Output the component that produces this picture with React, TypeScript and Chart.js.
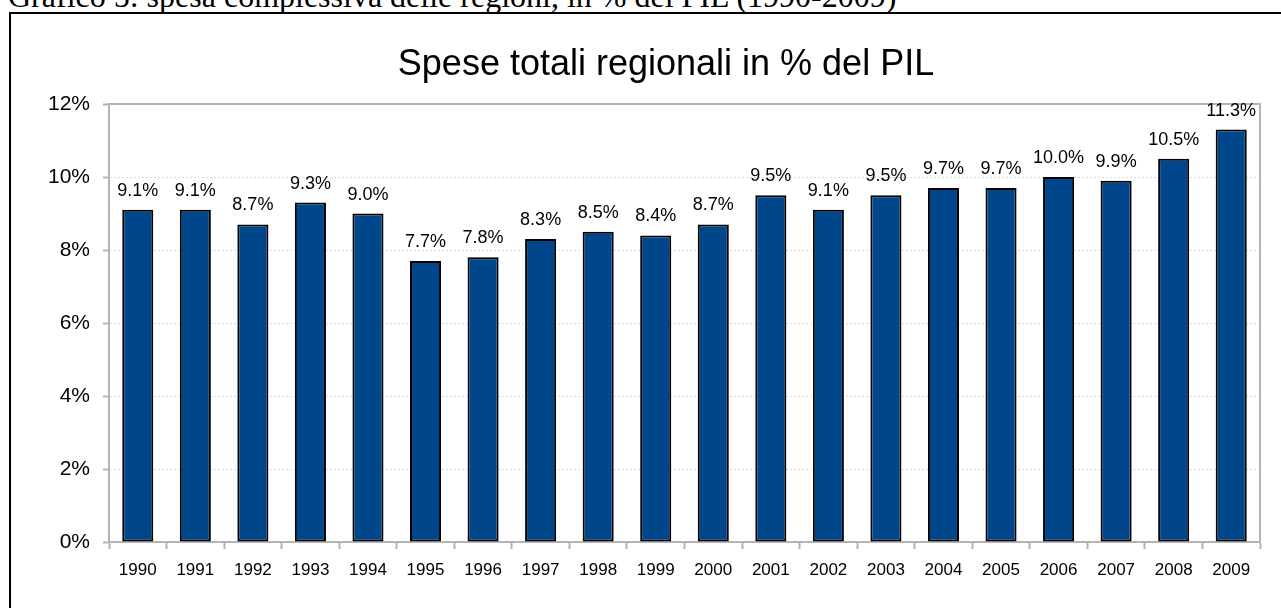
import React, { useEffect, useRef } from "react";
import { Chart, registerables } from "chart.js";

Chart.register(...registerables);

const caption = "Grafico 5: spesa complessiva delle regioni, in % del PIL (1990-2009)";
const chartTitle = "Spese totali regionali in % del PIL";
const years = ["1990", "1991", "1992", "1993", "1994", "1995", "1996", "1997", "1998", "1999", "2000", "2001", "2002", "2003", "2004", "2005", "2006", "2007", "2008", "2009"];
const spesaPct = [9.1, 9.1, 8.7, 9.3, 9.0, 7.7, 7.8, 8.3, 8.5, 8.4, 8.7, 9.5, 9.1, 9.5, 9.7, 9.7, 10.0, 9.9, 10.5, 11.3];
const yMin = 0;
const yMax = 12;
const yStep = 2;

const FONT = "'Liberation Sans', Arial, sans-serif";
const AXIS_GRAY = "#b4b4b4";

const titlePlugin = {
  id: "customTitle",
  afterDraw(chart: any) {
    const { ctx, chartArea } = chart;
    ctx.save();
    ctx.font = `36px ${FONT}`;
    ctx.fillStyle = "#000";
    ctx.textAlign = "center";
    ctx.textBaseline = "alphabetic";
    ctx.fillText(chartTitle, chartArea.left + 557, chartArea.top - 29);
    ctx.restore();
  },
};

const framePlugin = {
  id: "plotFrame",
  beforeDatasetsDraw(chart: any) {
    const { ctx, chartArea } = chart;
    ctx.save();
    ctx.strokeStyle = AXIS_GRAY;
    ctx.lineWidth = 2;
    ctx.beginPath();
    ctx.moveTo(chartArea.left, chartArea.top);
    ctx.lineTo(chartArea.right, chartArea.top);
    ctx.lineTo(chartArea.right, chartArea.bottom);
    ctx.stroke();
    ctx.restore();
  },
};

const valueLabelPlugin = {
  id: "valueLabels",
  afterDatasetsDraw(chart: any) {
    const { ctx } = chart;
    const meta = chart.getDatasetMeta(0);
    const data = chart.data.datasets[0].data as number[];
    ctx.save();
    ctx.font = `18px ${FONT}`;
    ctx.fillStyle = "#000";
    ctx.textAlign = "center";
    ctx.textBaseline = "alphabetic";
    meta.data.forEach((el: any, i: number) => {
      ctx.fillText(data[i].toFixed(1) + "%", el.x, el.y - 14);
    });
    ctx.restore();
  },
};

export default function App() {
  const canvasRef = useRef<HTMLCanvasElement | null>(null);

  useEffect(() => {
    if (!canvasRef.current) return;
    const chart = new Chart(canvasRef.current, {
      type: "bar",
      data: {
        labels: years,
        datasets: [
          {
            data: spesaPct,
            backgroundColor: "#00468a",
            borderColor: "#000000",
            borderWidth: 2,
            borderSkipped: false,
            barPercentage: 0.54,
            categoryPercentage: 1,
          },
        ],
      },
      options: {
        animation: false,
        responsive: true,
        maintainAspectRatio: false,
        layout: { padding: { top: 104, right: 21, left: 0, bottom: 0 } },
        plugins: {
          legend: { display: false },
          title: { display: false },
          tooltip: { enabled: false },
        },
        scales: {
          x: {
            offset: true,
            grid: {
              display: true,
              offset: true,
              drawOnChartArea: false,
              drawTicks: true,
              tickLength: 7,
              tickColor: AXIS_GRAY,
              tickWidth: 2,
            },
            border: { display: true, color: AXIS_GRAY, width: 2 },
            ticks: {
              font: { family: FONT, size: 17 },
              color: "#000",
              padding: 11,
              maxRotation: 0,
              autoSkip: false,
            },
            afterFit(scale: any) {
              scale.height = 66;
            },
          },
          y: {
            min: yMin,
            max: yMax,
            grid: {
              color: "#dadada",
              lineWidth: 1,
              drawTicks: true,
              tickLength: 6,
              tickColor: AXIS_GRAY,
              tickWidth: 2,
            },
            border: { display: true, color: AXIS_GRAY, width: 2, dash: [2, 2] },
            ticks: {
              stepSize: yStep,
              font: { family: FONT, size: 21 },
              color: "#000",
              padding: 13,
              callback: (v: any) => `${v}%`,
            },
            afterFit(scale: any) {
              scale.width = 109;
            },
          },
        },
      },
      plugins: [titlePlugin, framePlugin, valueLabelPlugin],
    });
    return () => chart.destroy();
  }, []);

  return (
    <div
      style={{
        position: "absolute",
        left: 0,
        top: 0,
        width: 1281,
        height: 608,
        overflow: "hidden",
        background: "#fff",
      }}
    >
      <div
        style={{
          position: "absolute",
          left: 8,
          top: -20,
          fontFamily: "'Liberation Serif', 'Times New Roman', serif",
          fontSize: 32,
          lineHeight: "32px",
          whiteSpace: "nowrap",
          color: "#000",
        }}
      >
        {caption}
      </div>
      <div
        style={{
          position: "absolute",
          left: 9,
          top: 12,
          width: 1400,
          height: 800,
          border: "2px solid #000",
          boxSizing: "border-box",
        }}
      />
      <div style={{ position: "absolute", left: 0, top: 0, width: 1281, height: 608 }}>
        <canvas ref={canvasRef} />
      </div>
    </div>
  );
}
